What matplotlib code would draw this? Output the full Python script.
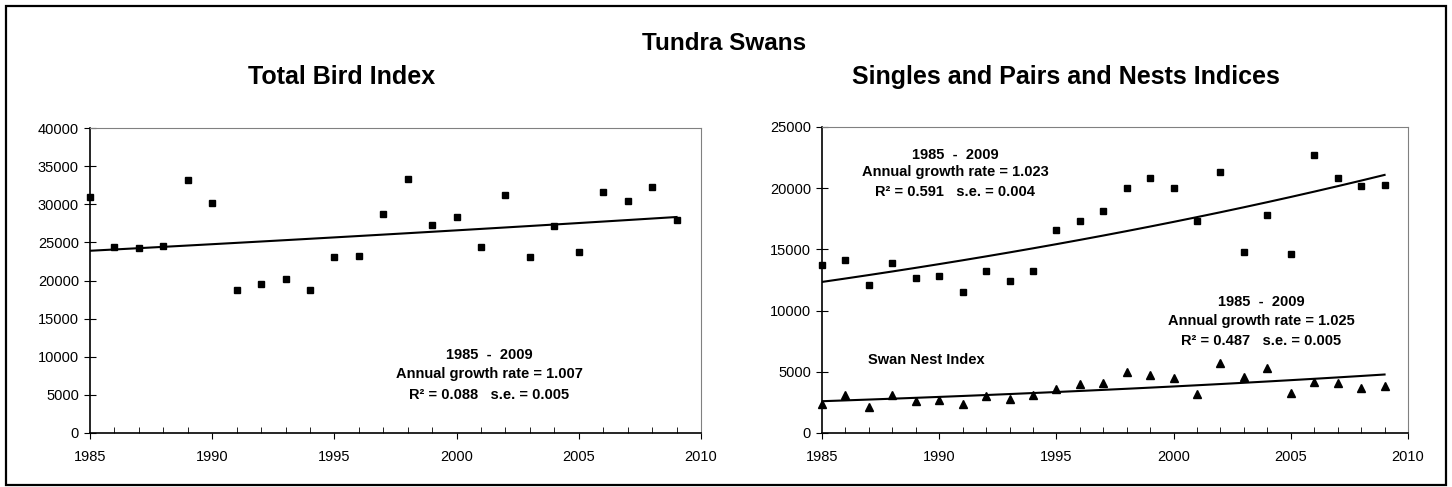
import matplotlib.pyplot as plt
import numpy as np
from matplotlib.ticker import MultipleLocator
from matplotlib.patches import Rectangle

plt.rcParams['font.family'] = ['Liberation Sans', 'DejaVu Sans']

years = np.arange(1985, 2010)

# Total bird index
total = [31000, 24400, 24300, 24500, 33200, 30100, 18700, 19500, 20200, 18800,
         23100, 23200, 28700, 33300, 27300, 28300, 24400, 31200, 23100, 27200,
         23700, 31600, 30400, 32200, 27900]

# Singles and pairs index
singles_pairs = [13700, 14100, 12100, 13900, 12700, 12800, 11500, 13200, 12400, 13200,
                 16600, 17300, 18100, 20000, 20800, 20000, 17300, 21300, 14800, 17800,
                 14600, 22700, 20800, 20200, 20300]

# Swan nest index
nests = [2400, 3100, 2100, 3100, 2600, 2700, 2400, 3000, 2800, 3100,
         3600, 4000, 4100, 5000, 4700, 4500, 3200, 5700, 4600, 5300,
         3300, 4200, 4100, 3700, 3800]


def exp_trend(x, y):
    # log-linear fit, as used for annual growth rate
    b, a = np.polyfit(x, np.log(y), 1)
    return np.exp(a + b * x)


def style_axes(ax, ymax, ystep):
    ax.set_xlim(1985, 2010)
    ax.set_ylim(0, ymax)
    ax.xaxis.set_major_locator(MultipleLocator(5))
    ax.xaxis.set_minor_locator(MultipleLocator(1))
    ax.yaxis.set_major_locator(MultipleLocator(ystep))
    ax.tick_params(axis='x', which='major', direction='out', length=4, labelsize=10.5, pad=8)
    ax.tick_params(axis='x', which='minor', direction='in', length=4)
    ax.tick_params(axis='y', direction='inout', length=9, labelsize=10.5)
    for s in ['top', 'right']:
        ax.spines[s].set_color('#808080')
    for s in ['left', 'bottom']:
        ax.spines[s].set_color('black')
        ax.spines[s].set_linewidth(1.2)


fig = plt.figure(figsize=(14.52, 4.87), dpi=100)

fig.patches.append(Rectangle((0.004, 0.004), 0.992, 0.984, transform=fig.transFigure,
                             fill=False, edgecolor='black', linewidth=1.6))

fig.text(0.499, 0.898, 'Tundra Swans', ha='center', va='baseline', fontsize=17.5, fontweight='bold')
fig.text(0.235, 0.828, 'Total Bird Index', ha='center', va='baseline', fontsize=18, fontweight='bold')
fig.text(0.734, 0.828, 'Singles and Pairs and Nests Indices', ha='center', va='baseline',
         fontsize=18, fontweight='bold')

# Left panel
ax1 = fig.add_axes([90/1452, 1-433/487, 611/1452, 305/487])
ax1.plot(years, total, 's', color='black', markersize=5, clip_on=False)
ax1.plot(years, exp_trend(years, total), color='black', linewidth=1.5)
style_axes(ax1, 40000, 5000)

tk = dict(ha='center', va='center', fontsize=10.5, fontweight='bold', transform=ax1.transAxes)
ax1.text(0.653, 0.256, '1985  -  2009', **tk)
ax1.text(0.653, 0.193, 'Annual growth rate = 1.007', **tk)
ax1.text(0.653, 0.126, 'R² = 0.088   s.e. = 0.005', **tk)

# Right panel
ax2 = fig.add_axes([822/1452, 1-433/487, 586/1452, 306/487])
ax2.plot(years, singles_pairs, 's', color='black', markersize=5, clip_on=False)
ax2.plot(years, exp_trend(years, singles_pairs), color='black', linewidth=1.5)
ax2.plot(years, nests, '^', color='black', markersize=5.5, clip_on=False)
ax2.plot(years, exp_trend(years, nests), color='black', linewidth=1.5)
style_axes(ax2, 25000, 5000)

tk2 = dict(ha='center', va='center', fontsize=10.5, fontweight='bold', transform=ax2.transAxes)
ax2.text(0.227, 0.910, '1985  -  2009', **tk2)
ax2.text(0.227, 0.853, 'Annual growth rate = 1.023', **tk2)
ax2.text(0.227, 0.789, 'R² = 0.591   s.e. = 0.004', **tk2)
ax2.text(0.749, 0.427, '1985  -  2009', **tk2)
ax2.text(0.749, 0.367, 'Annual growth rate = 1.025', **tk2)
ax2.text(0.749, 0.302, 'R² = 0.487   s.e. = 0.005', **tk2)
ax2.text(0.078, 0.239, 'Swan Nest Index', ha='left', va='center', fontsize=10.5,
         fontweight='bold', transform=ax2.transAxes)

fig.savefig('out.png', dpi=100)
